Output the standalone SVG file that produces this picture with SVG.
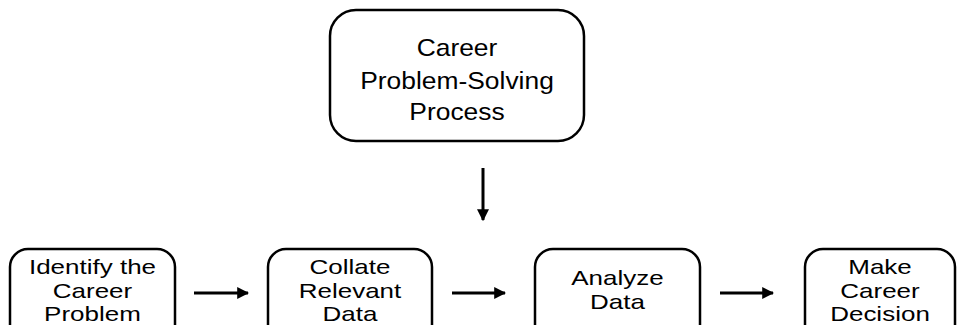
<svg xmlns="http://www.w3.org/2000/svg" width="957" height="325" viewBox="0 0 957 325">
<defs>
<style>
.box{fill:#fff;stroke:#000;stroke-width:2.5}
.t{font-family:"Liberation Sans",Arial,sans-serif;fill:#000;text-anchor:middle}
.big{font-size:24px}
.sm{font-size:20px}
.ln{stroke:#000;stroke-width:3;fill:none}
</style>
<marker id="ah" viewBox="0 0 10 10" refX="9" refY="5" markerWidth="4" markerHeight="4" orient="auto" markerUnits="strokeWidth">
<path d="M0,0 L10,5 L0,10 z" fill="#000"/>
</marker>
</defs>
<rect width="957" height="325" fill="#fff"/>
<g id="process">
<rect class="box" x="330" y="10" width="254" height="131" rx="26"/>
<g transform="translate(457,0) scale(1.1,1)">
<text class="t big" x="0" y="56">Career</text>
<text class="t big" x="0" y="89">Problem-Solving</text>
<text class="t big" x="0" y="120">Process</text>
</g>
</g>
<g id="identify">
<rect class="box" x="10" y="249" width="165" height="100" rx="18"/>
<g transform="translate(92.5,0) scale(1.3,1)">
<text class="t sm" x="0" y="274">Identify the</text>
<text class="t sm" x="0" y="298">Career</text>
<text class="t sm" x="0" y="321">Problem</text>
</g>
</g>
<g id="collate">
<rect class="box" x="268" y="249" width="164" height="100" rx="18"/>
<g transform="translate(350,0) scale(1.3,1)">
<text class="t sm" x="0" y="274">Collate</text>
<text class="t sm" x="0" y="298">Relevant</text>
<text class="t sm" x="0" y="321">Data</text>
</g>
</g>
<g id="analyze">
<rect class="box" x="535" y="249" width="165" height="100" rx="18"/>
<g transform="translate(617.5,0) scale(1.3,1)">
<text class="t sm" x="0" y="285">Analyze</text>
<text class="t sm" x="0" y="309">Data</text>
</g>
</g>
<g id="decide">
<rect class="box" x="805" y="249" width="150" height="100" rx="18"/>
<g transform="translate(880,0) scale(1.3,1)">
<text class="t sm" x="0" y="274">Make</text>
<text class="t sm" x="0" y="298">Career</text>
<text class="t sm" x="0" y="321">Decision</text>
</g>
</g>
<g id="connectors">
<line class="ln" x1="483" y1="168" x2="483" y2="220" marker-end="url(#ah)"/>
<line class="ln" x1="194" y1="293" x2="248" y2="293" marker-end="url(#ah)"/>
<line class="ln" x1="452" y1="293" x2="505" y2="293" marker-end="url(#ah)"/>
<line class="ln" x1="720" y1="293" x2="773" y2="293" marker-end="url(#ah)"/>
</g>
</svg>
